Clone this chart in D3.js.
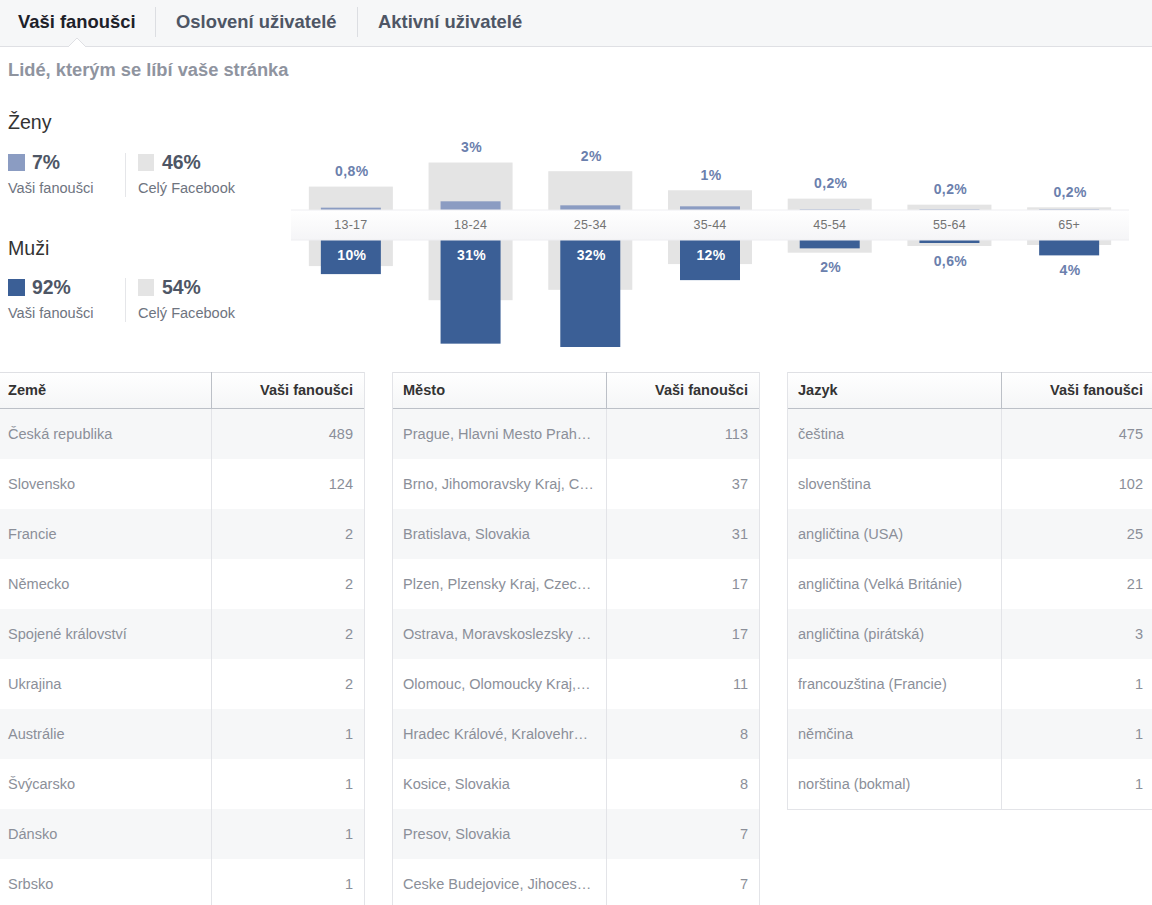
<!DOCTYPE html>
<html>
<head>
<meta charset="utf-8">
<script src="https://cdn.jsdelivr.net/npm/d3@7"></script>
<style>
html, body { margin: 0; padding: 0; background: #fff; overflow: hidden; }
svg { display: block; font-family: "Liberation Sans", Arial, sans-serif; }
.age .domain { display: none; }
.age line { display: none; }
.age text { font-size: 12.5px; fill: #737373; letter-spacing: .2px; font-family: "Liberation Sans", Arial, sans-serif; }
</style>
</head>
<body>
<script>
var tabs = ["Vaši fanoušci", "Oslovení uživatelé", "Aktivní uživatelé"];

var ages = ["13-17", "18-24", "25-34", "35-44", "45-54", "55-64", "65+"];
var womenFacebook = [7.0, 14.2, 11.6, 5.9, 3.4, 1.6, 0.8];
var menFacebook = [7.8, 18, 14.9, 7.2, 3.8, 1.8, 1.5];
var womenFans = [0.7, 2.6, 1.4, 1.1, 0.2, 0.2, 0.2];
var menFans = [10.2, 31, 32, 12, 2.5, 0.9, 4.6];
var womenLabels = ["0,8%", "3%", "2%", "1%", "0,2%", "0,2%", "0,2%"];
var menLabels = ["10%", "31%", "32%", "12%", "2%", "0,6%", "4%"];

var countries = ["Česká republika", "Slovensko", "Francie", "Německo", "Spojené království", "Ukrajina", "Austrálie", "Švýcarsko", "Dánsko", "Srbsko"];
var countryFans = [489, 124, 2, 2, 2, 2, 1, 1, 1, 1];
var cities = ["Prague, Hlavni Mesto Prah…", "Brno, Jihomoravsky Kraj, C…", "Bratislava, Slovakia", "Plzen, Plzensky Kraj, Czec…", "Ostrava, Moravskoslezsky …", "Olomouc, Olomoucky Kraj,…", "Hradec Králové, Kralovehr…", "Kosice, Slovakia", "Presov, Slovakia", "Ceske Budejovice, Jihoces…"];
var cityFans = [113, 37, 31, 17, 17, 11, 8, 8, 7, 7];
var languages = ["čeština", "slovenština", "angličtina (USA)", "angličtina (Velká Británie)", "angličtina (pirátská)", "francouzština (Francie)", "němčina", "norština (bokmal)"];
var languageFans = [475, 102, 25, 21, 3, 1, 1, 1];

var blue = "#3b5f96", lightBlue = "#8b9cc2", gray = "#e4e4e4", labelBlue = "#6b80ad";
var bodySize = 14.55;

var svg = d3.select("body").append("svg").attr("width", 1152).attr("height", 905);
var defs = svg.append("defs");

function vgrad(id, a, b) {
    var g = defs.append("linearGradient").attr("id", id).attr("x1", 0).attr("x2", 0).attr("y1", 0).attr("y2", 1);
    g.append("stop").attr("offset", 0).attr("stop-color", a);
    g.append("stop").attr("offset", 1).attr("stop-color", b);
}
vgrad("bandFill", "#ffffff", "#f5f5f7");
vgrad("headFill", "#ffffff", "#f5f6f7");

// top tabs
svg.append("rect").attr("width", 1152).attr("height", 46).attr("fill", "#f6f7f8");
svg.append("line").attr("x1", 0).attr("x2", 1152).attr("y1", 46.5).attr("y2", 46.5).attr("stroke", "#dfe0e4");
svg.append("path").attr("d", "M68 47L77 38L86 47").attr("fill", "#fff").attr("stroke", "#dfe0e4");

var tabX = [18, 176, 378];
svg.selectAll(".tab").data(tabs).enter().append("text")
    .attr("x", function(d, i) { return tabX[i]; })
    .attr("y", 28)
    .attr("font-size", 18.4).attr("font-weight", "bold")
    .attr("fill", function(d, i) { return i == 0 ? "#1d2129" : "#4e5665"; })
    .text(function(d) { return d; });
[155.5, 357.5].forEach(function(x) {
    svg.append("line").attr("x1", x).attr("x2", x).attr("y1", 7).attr("y2", 37).attr("stroke", "#dcdee2");
});

svg.append("text").attr("x", 8).attr("y", 76).attr("font-size", 18.3).attr("font-weight", "bold")
    .attr("fill", "#8f949f").text("Lidé, kterým se líbí vaše stránka");

// left legend
function legend(title, titleY, top, fanColor, fanPct, fbPct) {
    svg.append("text").attr("x", 8).attr("y", titleY).attr("font-size", 19.6).attr("fill", "#333").text(title);
    svg.append("rect").attr("x", 8).attr("y", top).attr("width", 17).attr("height", 17).attr("fill", fanColor);
    svg.append("rect").attr("x", 138).attr("y", top).attr("width", 16).attr("height", 17).attr("fill", gray);
    svg.append("text").attr("x", 32).attr("y", top + 15).attr("font-size", 19.4).attr("font-weight", "bold").attr("fill", "#4e5665").text(fanPct);
    svg.append("text").attr("x", 162).attr("y", top + 15).attr("font-size", 19.4).attr("font-weight", "bold").attr("fill", "#4e5665").text(fbPct);
    svg.append("text").attr("x", 8).attr("y", top + 39).attr("font-size", bodySize).attr("fill", "#6e7480").text("Vaši fanoušci");
    svg.append("text").attr("x", 138).attr("y", top + 39).attr("font-size", bodySize).attr("fill", "#6e7480").text("Celý Facebook");
    svg.append("line").attr("x1", 125.5).attr("x2", 125.5).attr("y1", top - 1).attr("y2", top + 43).attr("stroke", "#e5e6e9");
}
legend("Ženy", 129, 154, lightBlue, "7%", "46%");
legend("Muži", 255, 279, blue, "92%", "54%");

// age chart
var x = d3.scaleBand().domain(ages).range([291, 1129]);
var up = d3.scaleLinear().domain([0, 32]).range([210, 103]);
var down = d3.scaleLinear().domain([0, 32]).range([240, 347]);
var grayW = 84, fanW = 60;

function cx(i) { return x(ages[i]) + x.bandwidth() / 2; }

function bars(values, w, color, scale, isUp) {
    svg.append("g").selectAll("rect").data(values).enter().append("rect")
        .attr("x", function(d, i) { return cx(i) - w / 2; })
        .attr("width", w)
        .attr("y", function(d) { return isUp ? scale(d) : scale(0); })
        .attr("height", function(d) { return Math.abs(scale(d) - scale(0)); })
        .attr("fill", color);
}
bars(womenFacebook, grayW, gray, up, true);
bars(menFacebook, grayW, gray, down, false);
bars(womenFans, fanW, lightBlue, up, true);
bars(menFans, fanW, blue, down, false);

svg.append("rect").attr("x", 291).attr("y", 210).attr("width", 838).attr("height", 30).attr("fill", "url(#bandFill)");
[210, 240].forEach(function(y) {
    svg.append("line").attr("x1", 291).attr("x2", 1129).attr("y1", y).attr("y2", y).attr("stroke", "#eeeef1");
});

svg.append("g").attr("class", "age").attr("transform", "translate(0,220)")
    .call(d3.axisBottom(x).tickSize(0).tickPadding(0))
    .selectAll("text").attr("dy", "0.71em");

svg.append("g").selectAll("text").data(womenLabels).enter().append("text")
    .attr("x", function(d, i) { return cx(i) + 1; })
    .attr("y", function(d, i) { return up(Math.max(womenFacebook[i], womenFans[i])) - 10.5; })
    .attr("text-anchor", "middle").attr("font-size", 14).attr("font-weight", "bold").attr("letter-spacing", ".4px")
    .attr("fill", labelBlue).text(function(d) { return d; });

svg.append("g").selectAll("text").data(menLabels).enter().append("text")
    .attr("x", function(d, i) { return cx(i) + 1; })
    .attr("y", function(d, i) {
        if (menFans[i] > 9) return down(0) + 20;
        return down(Math.max(menFacebook[i], menFans[i])) + 19.5;
    })
    .attr("text-anchor", "middle").attr("font-size", 14).attr("font-weight", "bold").attr("letter-spacing", ".4px")
    .attr("fill", function(d, i) { return menFans[i] > 9 ? "#fff" : labelBlue; })
    .text(function(d) { return d; });

// tables
function table(left, right, split, head, names, fans, hasLeft, closed) {
    var g = svg.append("g");
    var rowY = d3.scaleLinear().domain([0, 1]).range([409, 459]);
    var bottom = closed ? rowY(names.length) : 905;

    g.append("rect").attr("x", left).attr("y", 372).attr("width", right - left).attr("height", 36).attr("fill", "url(#headFill)");

    g.selectAll(".row").data(names).enter().append("rect")
        .attr("x", left).attr("width", right - left)
        .attr("y", function(d, i) { return rowY(i); })
        .attr("height", 50)
        .attr("fill", function(d, i) { return i % 2 == 0 ? "#f6f7f8" : "#fff"; });

    g.append("line").attr("x1", left).attr("x2", right).attr("y1", 372.5).attr("y2", 372.5).attr("stroke", "#dfe0e4");
    g.append("line").attr("x1", left).attr("x2", right).attr("y1", 408.5).attr("y2", 408.5).attr("stroke", "#bcc0c7");
    g.append("line").attr("x1", split + .5).attr("x2", split + .5).attr("y1", 372).attr("y2", 408).attr("stroke", "#bcc0c7");
    g.append("line").attr("x1", split + .5).attr("x2", split + .5).attr("y1", 409).attr("y2", bottom).attr("stroke", "#e3e4e8");
    if (hasLeft) g.append("line").attr("x1", left + .5).attr("x2", left + .5).attr("y1", 372).attr("y2", bottom).attr("stroke", "#e3e4e8");
    if (right < 1152) g.append("line").attr("x1", right - .5).attr("x2", right - .5).attr("y1", 372).attr("y2", bottom).attr("stroke", "#e3e4e8");
    if (closed) g.append("line").attr("x1", left).attr("x2", right).attr("y1", bottom + .5).attr("y2", bottom + .5).attr("stroke", "#e3e4e8");

    var textX = hasLeft ? left + 11 : left + 8;
    var numX = split + 142;
    g.append("text").attr("x", textX).attr("y", 395).attr("font-size", bodySize).attr("font-weight", "bold").attr("fill", "#333").text(head);
    g.append("text").attr("x", numX).attr("y", 395).attr("text-anchor", "end").attr("font-size", bodySize).attr("font-weight", "bold").attr("fill", "#333").text("Vaši fanoušci");

    g.selectAll(".name").data(names).enter().append("text")
        .attr("x", textX).attr("y", function(d, i) { return rowY(i) + 30; })
        .attr("font-size", bodySize).attr("fill", "#8b8f99").text(function(d) { return d; });
    g.selectAll(".num").data(fans).enter().append("text")
        .attr("x", numX).attr("y", function(d, i) { return rowY(i) + 30; })
        .attr("text-anchor", "end").attr("font-size", bodySize).attr("fill", "#8b8f99").text(function(d) { return d; });
}
table(0, 365, 211, "Země", countries, countryFans, false, false);
table(392, 760, 606, "Město", cities, cityFans, true, false);
table(787, 1152, 1001, "Jazyk", languages, languageFans, true, true);
</script>
</body>
</html>
